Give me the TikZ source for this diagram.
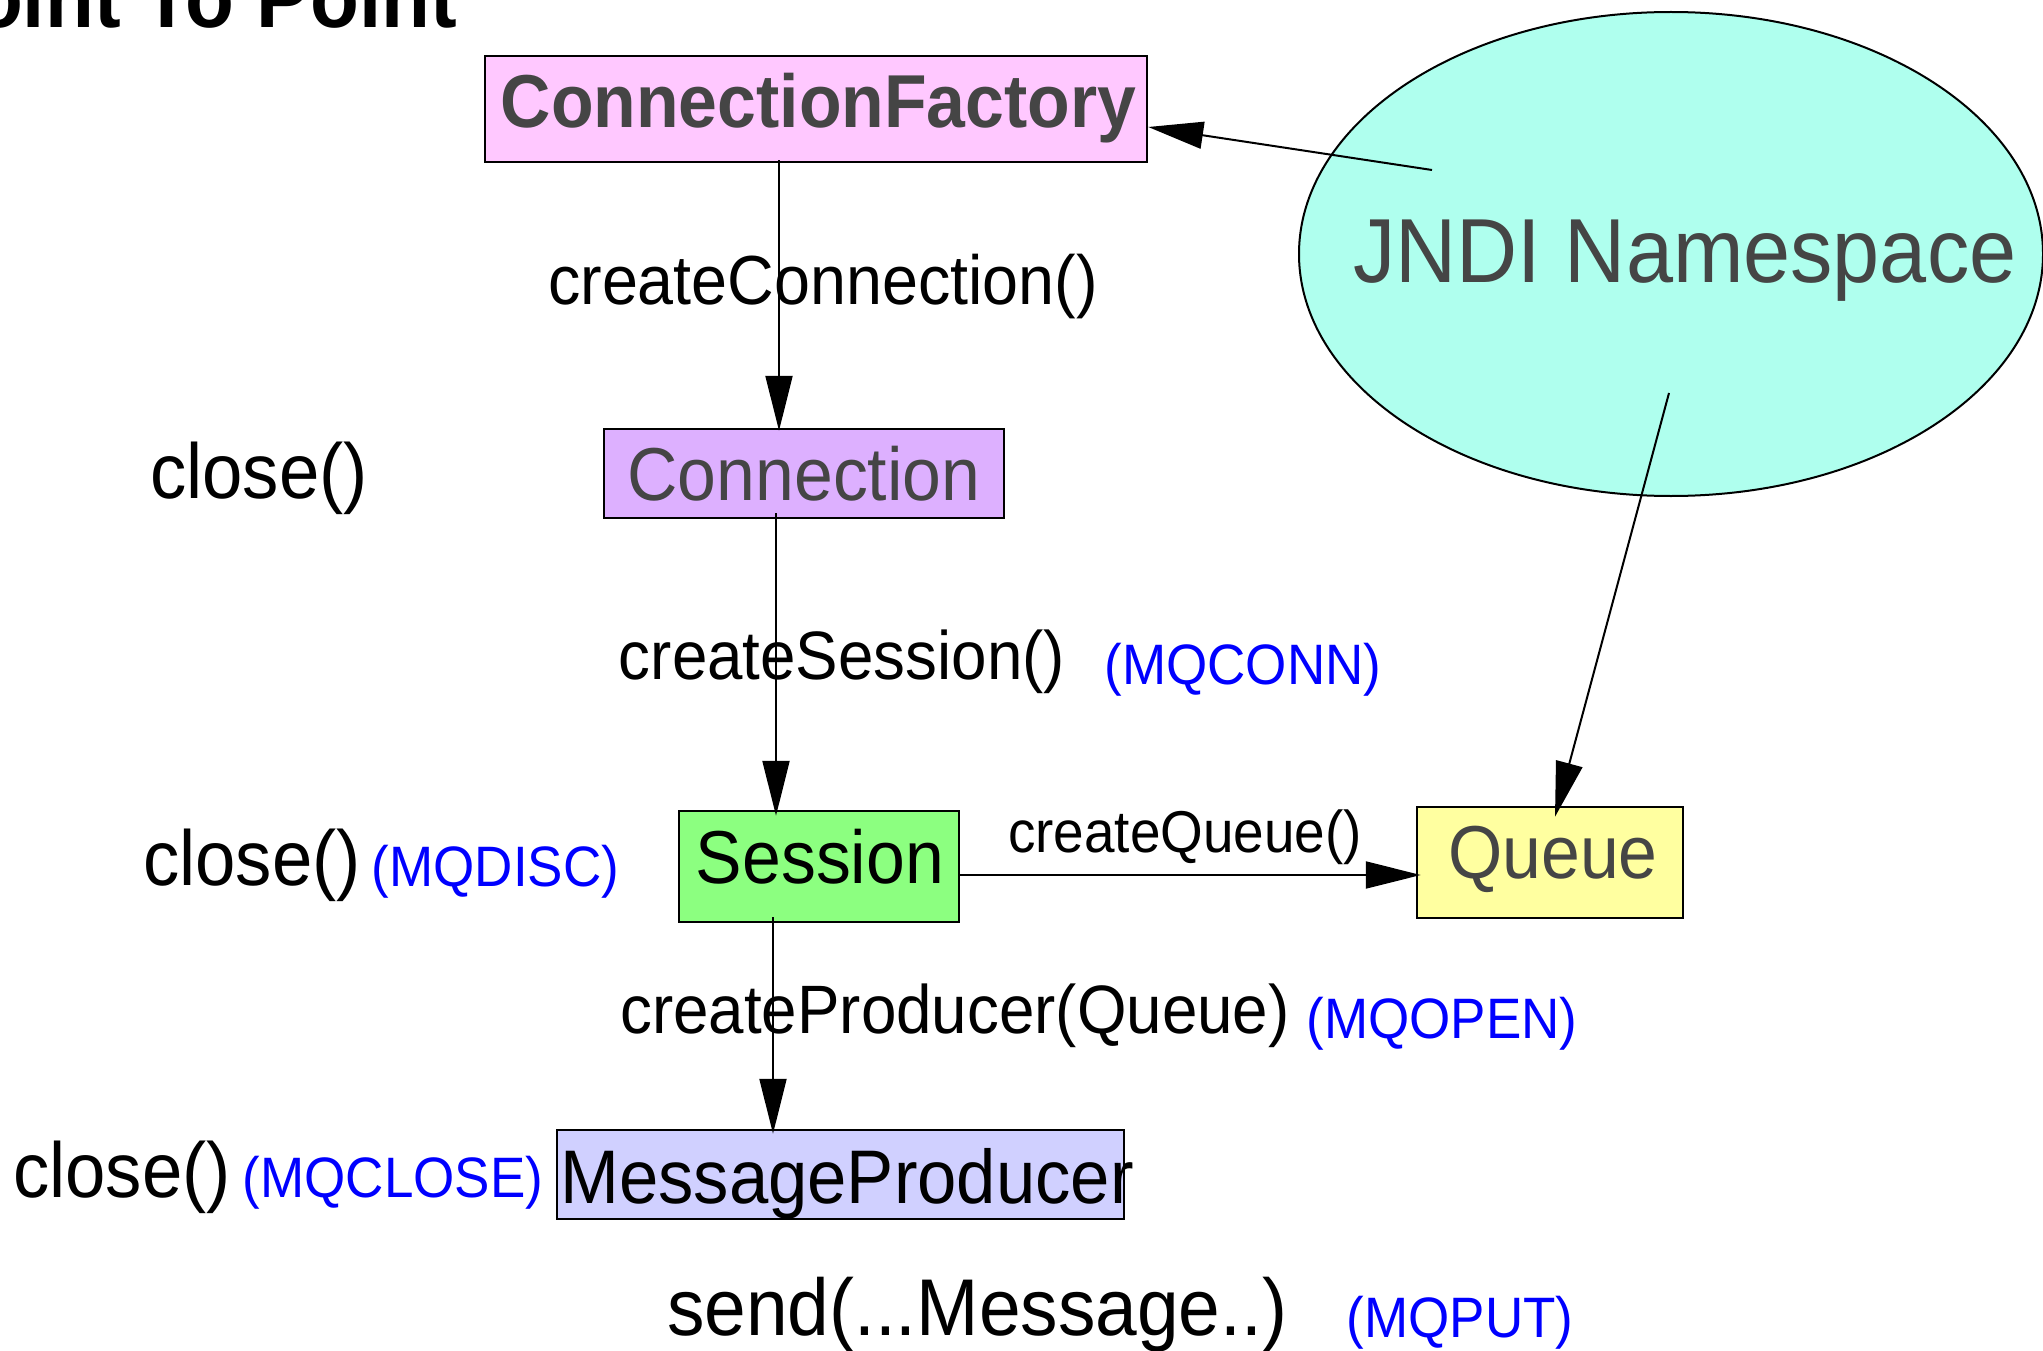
\documentclass[tikz,border=0pt]{standalone}
\usepackage{fontspec}
\usetikzlibrary{arrows.meta,shapes.geometric}
\newfontfamily\diagfont[FakeStretch=0.93]{Liberation Sans}
\newcommand\fsz[1]{\fontsize{#1pt}{#1pt}\selectfont}
\definecolor{cfpink}{HTML}{FFC8FF}
\definecolor{connpurple}{HTML}{DDB0FF}
\definecolor{sessgreen}{HTML}{8CFF80}
\definecolor{queueyellow}{HTML}{FFFFA0}
\definecolor{mpblue}{HTML}{D0D0FF}
\definecolor{jndicyan}{HTML}{AFFFEE}
\definecolor{objgray}{HTML}{454545}
\definecolor{mqblue}{HTML}{0000FF}
\begin{document}
\begin{tikzpicture}[x=1pt,y=-1pt,
  box/.style={draw=black, line width=2.5pt, rectangle, inner sep=0pt},
  link/.style={line width=2pt, -{Triangle[length=55pt,width=27pt]}},
  txt/.style={inner sep=0pt, anchor=base},
  objbold/.style={txt, font=\diagfont\bfseries\fsz{75}, text=objgray},
  objname/.style={txt, font=\diagfont\fsz{75}},
  call/.style={txt, font=\diagfont\fsz{68.5}},
  mq/.style={txt, font=\diagfont\fsz{57}, text=mqblue}]
% page
\useasboundingbox (0,0) rectangle (2043,1351);
\fill[white] (0,0) rectangle (2043,1351);

% heading
\node[txt, anchor=base east, font=\diagfont\bfseries\fsz{86}] (title) at (457,28) {Point To Point};

% JNDI namespace
\node[ellipse, draw=black, line width=2pt, fill=jndicyan, inner sep=0pt,
      minimum width=744pt, minimum height=484pt] (jndi) at (1671,254) {};
\node[txt, font=\diagfont\fsz{91}, text=objgray] (jndiT) at (1685,283) {JNDI Namespace};

% JMS objects
\node[box, fill=cfpink, minimum width=662pt, minimum height=106pt] (cf) at (816,109) {};
\node[objbold] (cfT) at (818.5,128) {ConnectionFactory};

\node[box, fill=connpurple, minimum width=400pt, minimum height=89pt] (conn) at (804,473.5) {};
\node[objname, text=objgray] (connT) at (804,500) {Connection};

\node[box, fill=sessgreen, minimum width=280pt, minimum height=111pt] (sess) at (819,866.5) {};
\node[objname] (sessT) at (820,883) {Session};

\node[box, fill=queueyellow, minimum width=266pt, minimum height=111pt] (queue) at (1550,862.5) {};
\node[objname, text=objgray] (queueT) at (1553,878) {Queue};

\node[box, fill=mpblue, minimum width=567pt, minimum height=89pt] (mp) at (840.5,1174.5) {};
\node[objname, font=\diagfont\fsz{76}] (mpT) at (847,1203) {MessageProducer};

% method calls
\node[call, font=\diagfont\fsz{69.5}] (ccT) at (823,304) {createConnection()};
\node[call] (csT) at (842,679) {createSession()};
\node[mq] (mqconn) at (1243,684) {(MQCONN)};
\node[txt, font=\diagfont\fsz{59}] (cqT) at (1185,852) {createQueue()};
\node[call] (cpT) at (955,1033) {createProducer(Queue)};
\node[mq] (mqopen) at (1442,1038) {(MQOPEN)};

\node[objname, font=\diagfont\fsz{78}] (close1) at (259,498) {close()};
\node[objname, font=\diagfont\fsz{78}] (close2) at (252,885) {close()};
\node[mq] (mqdisc) at (495.5,886) {(MQDISC)};
\node[objname, font=\diagfont\fsz{78}] (close3) at (122,1197) {close()};
\node[mq] (mqclose) at (393,1197) {(MQCLOSE)};

\node[objname, font=\diagfont\fsz{80.5}] (sendT) at (977,1335) {send(...Message..)};
\node[mq] (mqput) at (1460,1337) {(MQPUT)};

% connectors
\draw[link] ([xshift=-37pt,yshift=3pt]cf.south) -- ([xshift=-25pt,yshift=-3pt]conn.north);
\draw[link] ([xshift=-28pt,yshift=6pt]conn.south) -- ([xshift=-43pt,yshift=-6pt]sess.north);
\draw[link] ([xshift=-46pt,yshift=6pt]sess.south) -- ([xshift=-67.5pt,yshift=-5pt]mp.north);
\draw[link] ([yshift=-8.5pt]sess.east) -- ([xshift=5pt,yshift=-12.5pt]queue.west);
\draw[link] ([xshift=-239pt,yshift=84pt]jndi.center) -- ([yshift=-18pt]cf.east);
\draw[link] ([xshift=-2pt,yshift=-139pt]jndi.center) -- ([xshift=5pt,yshift=-11pt]queue.north);
\end{tikzpicture}
\end{document}
